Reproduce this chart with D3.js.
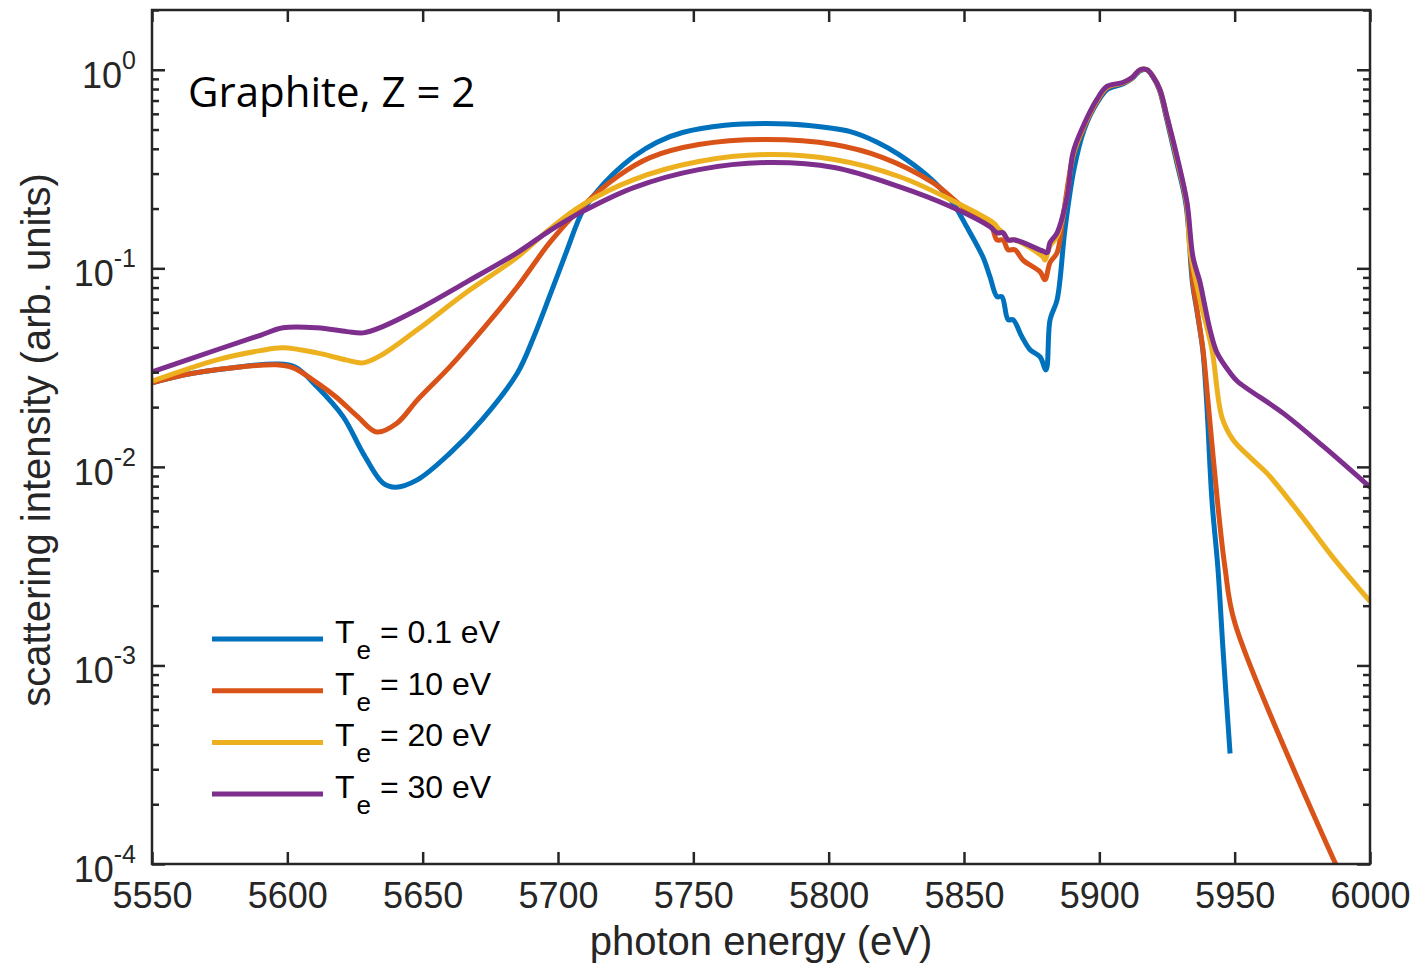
<!DOCTYPE html>
<html>
<head>
<meta charset="utf-8">
<script src="https://cdn.jsdelivr.net/npm/d3@7"></script>
<style>
  body { margin: 0; background: #fff; }
  svg { display: block; }
</style>
</head>
<body>
<svg id="chart" width="1418" height="966"></svg>
<script>
// Axis ticks
const xTickValues = [5550, 5600, 5650, 5700, 5750, 5800, 5850, 5900, 5950, 6000];
const yDecadeExponents = [-4, -3, -2, -1, 0];

// Legend entries and colours
const temperatureLabels = ["0.1", "10", "20", "30"];
const seriesColors = ["#0072BD", "#D95319", "#EDB120", "#7E2F8E"];

// Scattering spectra: [photon energy (eV), intensity (arb. units)]
const te01 = [
  [5550,0.0265],[5562,0.0291],[5580,0.0316],[5596,0.0330],[5603,0.0318],[5611,0.0253],
  [5620.6,0.0179],[5628,0.0117],[5635.3,0.0083],[5640,0.0079],[5648,0.0086],[5660,0.0117],
  [5672,0.0173],[5685,0.0297],[5691,0.045],[5697,0.073],[5703,0.120],[5709,0.193],
  [5714,0.240],[5720,0.295],[5728,0.366],[5736.6,0.432],[5746,0.483],[5761.7,0.525],
  [5777,0.536],[5792.7,0.524],[5808,0.488],[5817.9,0.432],[5826,0.374],[5836,0.296],
  [5845,0.222],[5851,0.162],[5857,0.114],
  [5859.6,0.0907],[5862.2,0.072],[5864,0.072],[5866.3,0.0551],[5868.1,0.0551],
  [5871.4,0.0452],[5874.4,0.0389],[5878.1,0.0358],[5880.3,0.0308],[5881.8,0.0551],
  [5884.4,0.0695],[5887.3,0.157],[5890.6,0.314],[5894.4,0.50],[5899.4,0.69],
  [5903.2,0.80],[5908.9,0.85],[5912.2,0.905],[5915.1,0.99],[5917.6,1.0],[5919.7,0.925],
  [5922.2,0.79],[5924.8,0.57],[5928.4,0.35],[5932.0,0.21],[5934.4,0.0845],
  [5936.0,0.0618],[5938.2,0.039],[5939.6,0.0218],[5941.6,0.0068],[5943.8,0.0031],
  [5945.7,0.0012],[5948.3,0.00036]
];

const te10 = [
  [5550,0.0265],[5562,0.0291],[5580,0.0316],[5596,0.0327],[5602,0.0316],[5611,0.0265],
  [5618,0.0225],[5626,0.0179],[5633,0.0150],[5640.5,0.0166],[5648,0.0217],[5660,0.0319],
  [5672,0.049],[5685,0.0807],[5697,0.135],[5709,0.205],[5722,0.290],[5734,0.361],
  [5752,0.420],[5777,0.445],[5802,0.420],[5820,0.361],[5838.5,0.270],[5851,0.197],
  [5859.6,0.170],[5860.7,0.157],[5862.2,0.139],[5864.4,0.139],[5866.3,0.124],
  [5868.8,0.124],[5871.8,0.110],[5878.1,0.096],[5879.9,0.0877],[5881.8,0.107],
  [5884.4,0.120],[5886.6,0.182],[5890.3,0.366],[5894.2,0.51],[5899.3,0.70],
  [5903,0.815],[5908.8,0.858],[5912.1,0.91],[5915,0.995],[5917.6,1.0],[5919.8,0.925],
  [5922.3,0.79],[5924.9,0.575],[5928.5,0.36],[5932.2,0.212],[5934.6,0.0845],
  [5936.1,0.0618],[5938.3,0.039],[5940.1,0.0217],[5943.6,0.0068],[5946.4,0.00313],
  [5950.1,0.00163],[5990,0.000083]
];

const te20 = [
  [5550,0.0270],[5574,0.0346],[5590,0.0385],[5598.4,0.0398],[5611,0.0375],[5622,0.0345],
  [5628,0.0334],[5635,0.0367],[5648,0.049],[5666,0.0753],[5685,0.114],
  [5697,0.158],[5709,0.209],[5728,0.280],[5752,0.345],[5777,0.374],[5802,0.353],
  [5826,0.290],[5845,0.222],[5860.7,0.170],[5863,0.157],[5864.4,0.151],[5866.3,0.139],
  [5868.8,0.139],[5879.2,0.114],[5879.9,0.110],[5881.8,0.130],[5884.4,0.145],
  [5888,0.23],[5890.3,0.375],[5894.1,0.515],[5899.2,0.705],[5902.9,0.82],[5908.7,0.86],
  [5912.1,0.912],[5915,0.998],[5917.6,1.0],[5919.8,0.925],[5922.4,0.795],[5925,0.58],
  [5928.6,0.363],[5932.3,0.213],[5933.5,0.124],[5937.2,0.0695],[5941.6,0.039],
  [5945.3,0.0178],[5949.4,0.0137],[5955.6,0.0112],[5961.9,0.0093],[5974.1,0.0058],
  [5986.3,0.0035],[6000,0.0021]
];

const te30 = [
  [5550,0.0301],[5574,0.0389],[5590,0.046],[5598.4,0.0502],[5611,0.0502],[5622,0.048],
  [5628,0.0473],[5635,0.0507],[5648,0.0618],[5666,0.085],[5685,0.120],
  [5697,0.155],[5709,0.193],[5728,0.255],[5752,0.314],[5777,0.341],[5802,0.322],
  [5826,0.258],[5845,0.205],[5859.6,0.162],[5862.2,0.151],[5864.4,0.151],[5866.3,0.139],
  [5868.8,0.139],[5879.2,0.122],[5880.7,0.120],[5881.8,0.135],[5884.4,0.151],
  [5888.1,0.230],[5890.3,0.383],[5894,0.518],[5899.1,0.709],[5902.8,0.824],
  [5908.7,0.863],[5912.1,0.914],[5915,1.0],[5917.6,1.0],[5919.8,0.925],[5922.4,0.795],
  [5925,0.581],[5928.7,0.366],[5932.4,0.214],[5934.6,0.114],[5937.2,0.085],
  [5938.3,0.072],[5940.9,0.049],[5943.5,0.0375],[5948.3,0.0298],[5951,0.027],
  [5968,0.0186],[5983,0.0126],[6000,0.0079]
];

const allSeries = [te01, te10, te20, te30];

// ---- layout ----
const svg = d3.select("#chart");
const plot = { left: 152, top: 10, right: 1370, bottom: 864 };
const axisColor = "#262626";
const tickFont = "'Liberation Sans', Arial, Helvetica, sans-serif";

const x = d3.scaleLinear().domain([5550, 6000]).range([plot.left, plot.right]);
const y = d3.scaleLog().domain([1e-4, 2]).range([plot.bottom, plot.top]);

// minor log ticks 2..9 in each decade
const minorTicks = [];
for (const e of [-4, -3, -2, -1, 0]) {
  for (let k = 2; k <= 9; k++) {
    const v = k * Math.pow(10, e);
    if (v <= 2) minorTicks.push(v);
  }
}
const majorTicks = yDecadeExponents.map(e => Math.pow(10, e));

// clip region for the curves
svg.append("defs").append("clipPath").attr("id", "plotClip")
  .append("rect")
  .attr("x", plot.left).attr("y", plot.top)
  .attr("width", plot.right - plot.left).attr("height", plot.bottom - plot.top);

// ---- curves ----
const line = d3.line()
  .x(d => x(d[0]))
  .y(d => y(d[1]))
  .curve(d3.curveCatmullRom.alpha(0.5));

svg.append("g").attr("clip-path", "url(#plotClip)")
  .selectAll("path")
  .data(allSeries)
  .join("path")
  .attr("d", line)
  .attr("fill", "none")
  .attr("stroke", (d, i) => seriesColors[i])
  .attr("stroke-width", 5)
  .attr("stroke-linejoin", "round")
  .attr("stroke-linecap", "butt");

// ---- axes (ticks drawn inward) ----
function styleAxis(g) {
  g.select(".domain").remove();
  g.selectAll(".tick line").attr("stroke", axisColor).attr("stroke-width", 2.5);
}

svg.append("g")
  .attr("transform", `translate(0,${plot.bottom})`)
  .call(d3.axisBottom(x).tickValues(xTickValues).tickSize(-12).tickPadding(18)
    .tickFormat(d3.format("d")))
  .call(styleAxis)
  .call(g => g.selectAll("text")
    .attr("fill", axisColor)
    .style("font-family", tickFont)
    .style("font-size", "36px"));

svg.append("g")
  .attr("transform", `translate(0,${plot.top})`)
  .call(d3.axisTop(x).tickValues(xTickValues).tickSize(-12).tickFormat(""))
  .call(styleAxis);

svg.append("g")
  .attr("transform", `translate(${plot.left},0)`)
  .call(d3.axisLeft(y).tickValues(majorTicks).tickSize(-13).tickFormat(""))
  .call(styleAxis);
svg.append("g")
  .attr("transform", `translate(${plot.left},0)`)
  .call(d3.axisLeft(y).tickValues(minorTicks).tickSize(-7).tickFormat(""))
  .call(styleAxis);
svg.append("g")
  .attr("transform", `translate(${plot.right},0)`)
  .call(d3.axisRight(y).tickValues(majorTicks).tickSize(-13).tickFormat(""))
  .call(styleAxis);
svg.append("g")
  .attr("transform", `translate(${plot.right},0)`)
  .call(d3.axisRight(y).tickValues(minorTicks).tickSize(-7).tickFormat(""))
  .call(styleAxis);

// frame
svg.append("rect")
  .attr("x", plot.left).attr("y", plot.top)
  .attr("width", plot.right - plot.left).attr("height", plot.bottom - plot.top)
  .attr("fill", "none").attr("stroke", axisColor).attr("stroke-width", 2.5);

// y tick labels as powers of ten
const yLabels = svg.append("g")
  .style("font-family", tickFont)
  .attr("fill", axisColor);
yDecadeExponents.forEach(e => {
  const t = yLabels.append("text")
    .attr("x", 136)
    .attr("y", y(Math.pow(10, e)) + 18)
    .attr("text-anchor", "end");
  t.append("tspan").style("font-size", "36px").text("10");
  t.append("tspan").attr("dy", -19).style("font-size", "25px").text(String(e));
});

// axis titles
svg.append("text")
  .attr("x", (plot.left + plot.right) / 2)
  .attr("y", 955)
  .attr("text-anchor", "middle")
  .attr("fill", axisColor)
  .style("font-family", tickFont)
  .style("font-size", "40px")
  .text("photon energy (eV)");

svg.append("text")
  .attr("transform", `translate(50,${(plot.top + plot.bottom) / 2 + 3}) rotate(-90)`)
  .attr("text-anchor", "middle")
  .attr("fill", axisColor)
  .style("font-family", tickFont)
  .style("font-size", "40px")
  .text("scattering intensity (arb. units)");

// annotation
svg.append("text")
  .attr("x", 188)
  .attr("y", 107)
  .attr("fill", "#000")
  .style("font-family", "'Open Sans', 'Noto Sans', sans-serif")
  .style("font-size", "42px")
  .text("Graphite, Z = 2");

// ---- legend ----
const legend = svg.append("g");
temperatureLabels.forEach((lab, i) => {
  const ly = 639 + i * 51.7;
  legend.append("line")
    .attr("x1", 212).attr("x2", 323)
    .attr("y1", ly).attr("y2", ly)
    .attr("stroke", seriesColors[i])
    .attr("stroke-width", 5);
  const t = legend.append("text")
    .attr("x", 335)
    .attr("y", ly + 4)
    .attr("fill", "#000")
    .style("font-family", tickFont)
    .style("font-size", "32px");
  t.append("tspan").text("T");
  t.append("tspan").attr("dy", 16).attr("dx", 2).style("font-size", "26px").text("e");
  t.append("tspan").attr("dy", -16).text(` = ${lab} eV`);
});
</script>
</body>
</html>
